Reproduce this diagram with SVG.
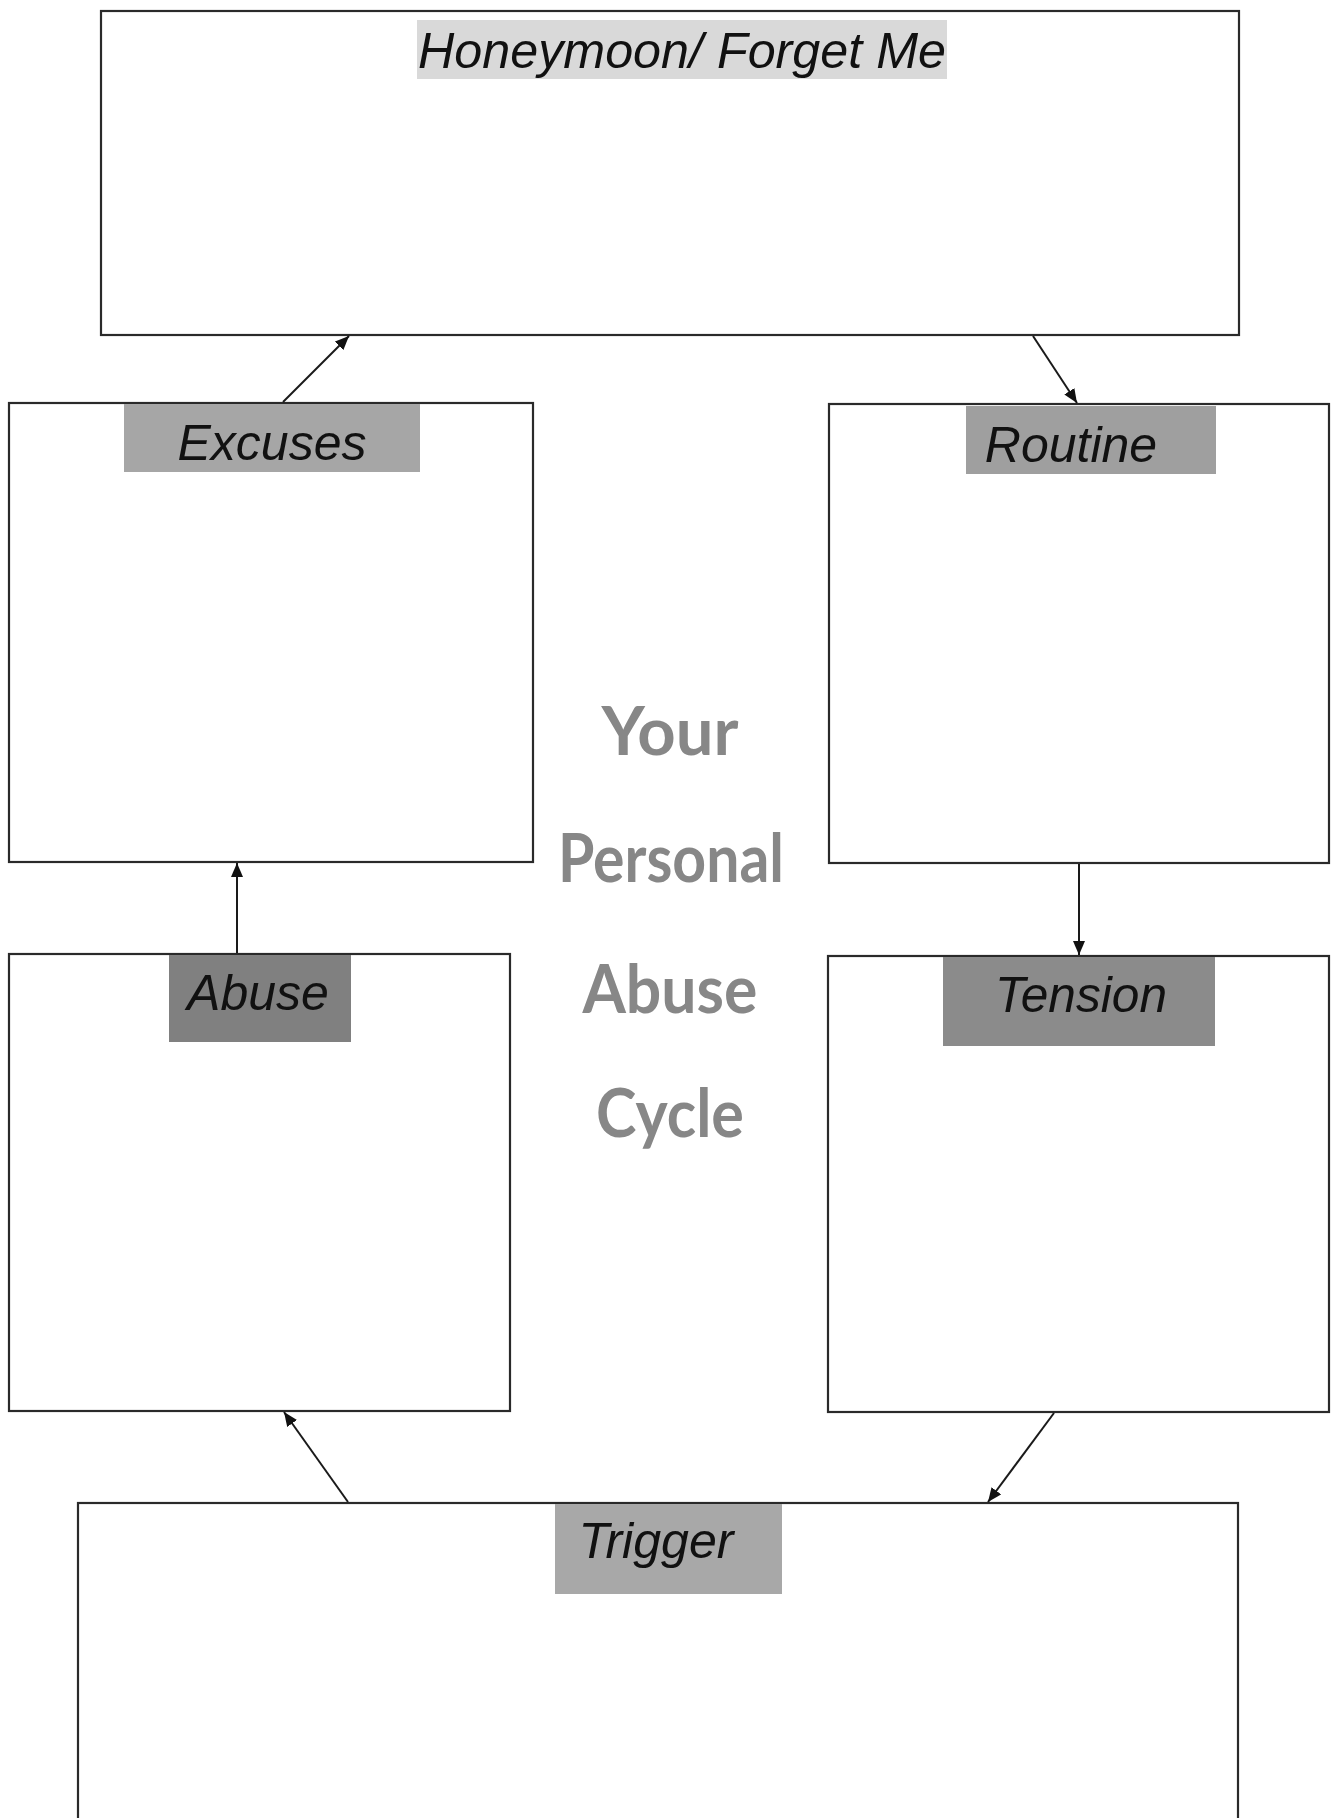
<svg xmlns="http://www.w3.org/2000/svg" width="1333" height="1818" viewBox="0 0 1333 1818">
<style>
.box{fill:#ffffff;stroke:#2a2a2a;stroke-width:2.2}
.lbl{font-family:"Liberation Sans",Arial,sans-serif;font-style:italic;font-size:50px;fill:#111111;text-anchor:middle}
.conn{stroke:#1a1a1a;stroke-width:2;fill:none;marker-end:url(#arr)}
.title{font-family:Lato,"Open Sans",sans-serif;font-weight:bold;font-size:66px;fill:#878787;text-anchor:middle}
</style>
<defs>
<marker id="arr" markerUnits="userSpaceOnUse" markerWidth="14" markerHeight="12" viewBox="0 0 14 12" refX="14" refY="6" orient="auto">
<path d="M0,0 L14,6 L0,12 Z" fill="#111111"/>
</marker>
</defs>
<rect width="1333" height="1818" fill="#ffffff"/>

<g id="honeymoon">
<rect class="box" x="101" y="11" width="1138" height="324"/>
<rect x="417" y="20" width="530" height="59" fill="#d9d9d9"/>
<text class="lbl" x="682" y="68" textLength="528" lengthAdjust="spacingAndGlyphs">Honeymoon/ Forget Me</text>
</g>

<g id="excuses">
<rect class="box" x="9" y="403" width="524" height="459"/>
<rect x="124" y="404" width="296" height="68" fill="#a6a6a6"/>
<text class="lbl" x="272" y="460">Excuses</text>
</g>

<g id="routine">
<rect class="box" x="829" y="404" width="500" height="459"/>
<rect x="966" y="406" width="250" height="68" fill="#9f9f9f"/>
<text class="lbl" x="1071" y="462">Routine</text>
</g>

<g id="abuse">
<rect class="box" x="9" y="954" width="501" height="457"/>
<rect x="169" y="955" width="182" height="87" fill="#808080"/>
<text class="lbl" x="258" y="1010">Abuse</text>
</g>

<g id="tension">
<rect class="box" x="828" y="956" width="501" height="456"/>
<rect x="943" y="957" width="272" height="89" fill="#8b8b8b"/>
<text class="lbl" x="1081" y="1012" textLength="172" lengthAdjust="spacingAndGlyphs">Tension</text>
</g>

<g id="trigger">
<rect class="box" x="78" y="1503" width="1160" height="340"/>
<rect x="555" y="1504" width="227" height="90" fill="#a8a8a8"/>
<text class="lbl" x="656" y="1558" textLength="155" lengthAdjust="spacingAndGlyphs">Trigger</text>
</g>

<g id="center-title">
<text class="title" x="670" y="755" textLength="137" lengthAdjust="spacingAndGlyphs">Your</text>
<text class="title" x="671" y="882" textLength="226" lengthAdjust="spacingAndGlyphs">Personal</text>
<text class="title" x="670" y="1013" textLength="175" lengthAdjust="spacingAndGlyphs">Abuse</text>
<text class="title" x="670" y="1137" textLength="148" lengthAdjust="spacingAndGlyphs">Cycle</text>
</g>

<g id="connectors">
<line class="conn" x1="283" y1="402" x2="349" y2="336"/>
<line class="conn" x1="1033" y1="336" x2="1077" y2="403"/>
<line class="conn" x1="1079" y1="864" x2="1079" y2="955"/>
<line class="conn" x1="1054" y1="1413" x2="988" y2="1502"/>
<line class="conn" x1="348" y1="1502" x2="284" y2="1412"/>
<line class="conn" x1="237" y1="953" x2="237" y2="863"/>
</g>
</svg>
